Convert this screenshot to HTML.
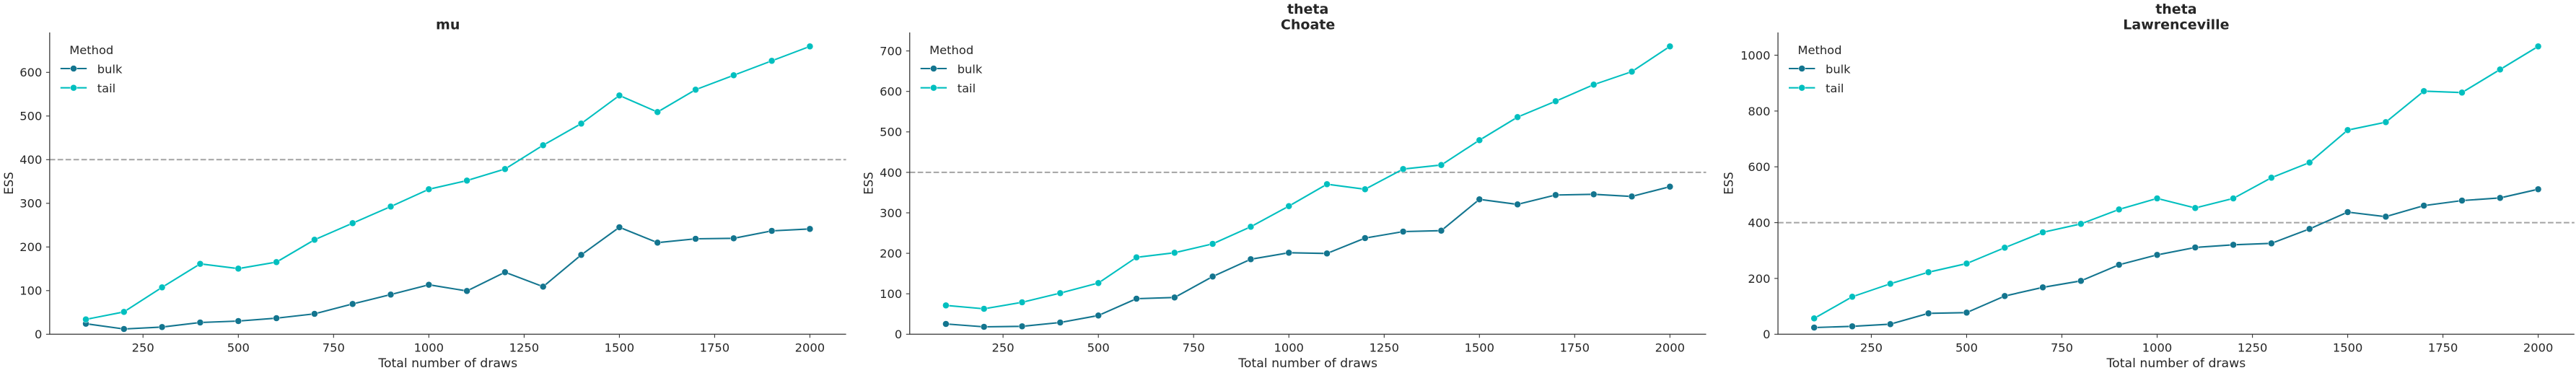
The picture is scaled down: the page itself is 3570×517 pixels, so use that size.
<!DOCTYPE html>
<html>
<head>
<meta charset="utf-8">
<style>
  html,body{margin:0;padding:0;background:#fff;}
  svg{display:block;}
  text{font-family:"DejaVu Sans","Liberation Sans",sans-serif;fill:#262626;}
  .tk{font-size:16.3px;}
  .lab{font-size:17.3px;}
  .ttl{font-size:19px;font-weight:bold;}
  .leg{font-size:16.3px;}
  .ax{stroke:#333;stroke-width:1.25;fill:none;}
  .tick{stroke:#333;stroke-width:1.1;}
  .ref{stroke:#a3a3a3;stroke-width:2;stroke-dasharray:7.7 3.3;fill:none;}
  .lb{stroke:#13758f;stroke-width:2.08;fill:none;stroke-linejoin:round;marker-start:url(#mb);marker-mid:url(#mb);marker-end:url(#mb);}
  .lt{stroke:#00bfbf;stroke-width:2.08;fill:none;stroke-linejoin:round;marker-start:url(#mt);marker-mid:url(#mt);marker-end:url(#mt);}
</style>
</head>
<body>
<svg width="3570" height="517" viewBox="0 0 3570 517" xmlns="http://www.w3.org/2000/svg">
<defs>
  <marker id="mb" viewBox="-6 -6 12 12" markerWidth="12" markerHeight="12" refX="0" refY="0" markerUnits="userSpaceOnUse" overflow="visible">
    <circle r="4.5" fill="#13758f" stroke="#ffffff" stroke-width="0.5"/>
  </marker>
  <marker id="mt" viewBox="-6 -6 12 12" markerWidth="12" markerHeight="12" refX="0" refY="0" markerUnits="userSpaceOnUse" overflow="visible">
    <circle r="4.5" fill="#00bfbf" stroke="#ffffff" stroke-width="0.5"/>
  </marker>
</defs>
<rect width="3570" height="517" fill="#fff"/>

<!-- ================= PANEL 1 : mu ================= -->
<g transform="translate(66.2,0)">
  <line class="ref" x1="2.64" y1="221.3" x2="1106.4" y2="221.3"/>
  <polyline class="lb" points="52.8,448.7 105.6,456 158.4,453.3 211.2,447 264.1,445 316.9,441 369.7,435 422.5,421.3 475.3,408.3 528.1,394.7 580.9,403.3 633.7,377.3 686.5,397.3 739.3,353.3 792.2,315 845,336.3 897.8,331 950.6,330.3 1003.4,320 1056.2,317.3"/>
  <polyline class="lt" points="52.8,442.7 105.6,432.3 158.4,398.3 211.2,365.7 264.1,372.3 316.9,363.3 369.7,332.3 422.5,309.3 475.3,286.3 528.1,262.3 580.9,250.3 633.7,234.3 686.5,201.3 739.3,171.3 792.2,132.3 845,155.3 897.8,124.3 950.6,104.3 1003.4,84.3 1056.2,64.3"/>
  <path class="ax" d="M2.64,45 V463.3 H1106.4"/>
  <g class="tick">
    <line x1="2.64" y1="463.3" x2="-2.3" y2="463.3"/>
    <line x1="2.64" y1="402.8" x2="-2.3" y2="402.8"/>
    <line x1="2.64" y1="342.3" x2="-2.3" y2="342.3"/>
    <line x1="2.64" y1="281.8" x2="-2.3" y2="281.8"/>
    <line x1="2.64" y1="221.3" x2="-2.3" y2="221.3"/>
    <line x1="2.64" y1="160.8" x2="-2.3" y2="160.8"/>
    <line x1="2.64" y1="100.3" x2="-2.3" y2="100.3"/>
    <line x1="132" y1="463.3" x2="132" y2="468.2"/>
    <line x1="264.1" y1="463.3" x2="264.1" y2="468.2"/>
    <line x1="396.1" y1="463.3" x2="396.1" y2="468.2"/>
    <line x1="528.1" y1="463.3" x2="528.1" y2="468.2"/>
    <line x1="660.2" y1="463.3" x2="660.2" y2="468.2"/>
    <line x1="792.2" y1="463.3" x2="792.2" y2="468.2"/>
    <line x1="924.2" y1="463.3" x2="924.2" y2="468.2"/>
    <line x1="1056.2" y1="463.3" x2="1056.2" y2="468.2"/>
  </g>
  <g class="tk" text-anchor="end">
    <text x="-7.9" y="469.2">0</text>
    <text x="-7.9" y="408.7">100</text>
    <text x="-7.9" y="348.2">200</text>
    <text x="-7.9" y="287.7">300</text>
    <text x="-7.9" y="227.2">400</text>
    <text x="-7.9" y="166.7">500</text>
    <text x="-7.9" y="106.2">600</text>
  </g>
  <g class="tk" text-anchor="middle">
    <text x="132" y="487.6">250</text>
    <text x="264.1" y="487.6">500</text>
    <text x="396.1" y="487.6">750</text>
    <text x="528.1" y="487.6">1000</text>
    <text x="660.2" y="487.6">1250</text>
    <text x="792.2" y="487.6">1500</text>
    <text x="924.2" y="487.6">1750</text>
    <text x="1056.2" y="487.6">2000</text>
  </g>
  <text class="lab" x="554.5" y="509" text-anchor="middle">Total number of draws</text>
  <text class="lab" transform="translate(-48.4,254) rotate(-90)" text-anchor="middle" style="font-size:16.5px">ESS</text>
  <text class="ttl" x="554.5" y="40.3" text-anchor="middle">mu</text>
  <!-- legend -->
  <text class="leg" x="30" y="75">Method</text>
  <line x1="17.6" y1="95" x2="54" y2="95" stroke="#13758f" stroke-width="2.08"/>
  <circle cx="35.8" cy="95" r="4.5" fill="#13758f" stroke="#fff" stroke-width="0.5"/>
  <text class="leg" x="68.6" y="101.5">bulk</text>
  <line x1="17.6" y1="121.7" x2="54" y2="121.7" stroke="#00bfbf" stroke-width="2.08"/>
  <circle cx="35.8" cy="121.7" r="4.5" fill="#00bfbf" stroke="#fff" stroke-width="0.5"/>
  <text class="leg" x="68.6" y="128.2">tail</text>
</g>

<!-- ================= PANEL 2 : theta Choate ================= -->
<g transform="translate(1258.1,0)">
  <line class="ref" x1="2.64" y1="238.9" x2="1106.4" y2="238.9"/>
  <polyline class="lb" points="52.8,449 105.6,453 158.4,452.3 211.2,447 264.1,437.3 316.9,414 369.7,412.3 422.5,383.3 475.3,359.3 528.1,350.3 580.9,351.3 633.7,330 686.5,321 739.3,319.7 792.2,276.3 845,283.3 897.8,270.3 950.6,269.3 1003.4,272.3 1056.2,258.7"/>
  <polyline class="lt" points="52.8,423.3 105.6,428 158.4,419 211.2,406.3 264.1,392.3 316.9,356.7 369.7,350.3 422.5,338 475.3,314.3 528.1,285.7 580.9,255.3 633.7,262.3 686.5,234.3 739.3,228.7 792.2,194.3 845,162.3 897.8,140.3 950.6,117.3 1003.4,99.3 1056.2,64.3"/>
  <path class="ax" d="M2.64,45 V463.3 H1106.4"/>
  <g class="tick">
    <line x1="2.64" y1="463.3" x2="-2.3" y2="463.3"/>
    <line x1="2.64" y1="407.2" x2="-2.3" y2="407.2"/>
    <line x1="2.64" y1="351.1" x2="-2.3" y2="351.1"/>
    <line x1="2.64" y1="295" x2="-2.3" y2="295"/>
    <line x1="2.64" y1="238.9" x2="-2.3" y2="238.9"/>
    <line x1="2.64" y1="182.8" x2="-2.3" y2="182.8"/>
    <line x1="2.64" y1="126.7" x2="-2.3" y2="126.7"/>
    <line x1="2.64" y1="70.6" x2="-2.3" y2="70.6"/>
    <line x1="132" y1="463.3" x2="132" y2="468.2"/>
    <line x1="264.1" y1="463.3" x2="264.1" y2="468.2"/>
    <line x1="396.1" y1="463.3" x2="396.1" y2="468.2"/>
    <line x1="528.1" y1="463.3" x2="528.1" y2="468.2"/>
    <line x1="660.2" y1="463.3" x2="660.2" y2="468.2"/>
    <line x1="792.2" y1="463.3" x2="792.2" y2="468.2"/>
    <line x1="924.2" y1="463.3" x2="924.2" y2="468.2"/>
    <line x1="1056.2" y1="463.3" x2="1056.2" y2="468.2"/>
  </g>
  <g class="tk" text-anchor="end">
    <text x="-7.9" y="469.2">0</text>
    <text x="-7.9" y="413.1">100</text>
    <text x="-7.9" y="357">200</text>
    <text x="-7.9" y="300.9">300</text>
    <text x="-7.9" y="244.8">400</text>
    <text x="-7.9" y="188.7">500</text>
    <text x="-7.9" y="132.6">600</text>
    <text x="-7.9" y="76.5">700</text>
  </g>
  <g class="tk" text-anchor="middle">
    <text x="132" y="487.6">250</text>
    <text x="264.1" y="487.6">500</text>
    <text x="396.1" y="487.6">750</text>
    <text x="528.1" y="487.6">1000</text>
    <text x="660.2" y="487.6">1250</text>
    <text x="792.2" y="487.6">1500</text>
    <text x="924.2" y="487.6">1750</text>
    <text x="1056.2" y="487.6">2000</text>
  </g>
  <text class="lab" x="554.5" y="509" text-anchor="middle">Total number of draws</text>
  <text class="lab" transform="translate(-48.6,254) rotate(-90)" text-anchor="middle" style="font-size:16.5px">ESS</text>
  <text class="ttl" x="554.5" y="18.8" text-anchor="middle">theta</text>
  <text class="ttl" x="554.5" y="40.3" text-anchor="middle">Choate</text>
  <!-- legend -->
  <text class="leg" x="30" y="75">Method</text>
  <line x1="17.6" y1="95" x2="54" y2="95" stroke="#13758f" stroke-width="2.08"/>
  <circle cx="35.8" cy="95" r="4.5" fill="#13758f" stroke="#fff" stroke-width="0.5"/>
  <text class="leg" x="68.6" y="101.5">bulk</text>
  <line x1="17.6" y1="121.7" x2="54" y2="121.7" stroke="#00bfbf" stroke-width="2.08"/>
  <circle cx="35.8" cy="121.7" r="4.5" fill="#00bfbf" stroke="#fff" stroke-width="0.5"/>
  <text class="leg" x="68.6" y="128.2">tail</text>
</g>

<!-- ================= PANEL 3 : theta Lawrenceville ================= -->
<g transform="translate(2461.4,0)">
  <line class="ref" x1="2.64" y1="308.6" x2="1106.4" y2="308.6"/>
  <polyline class="lb" points="52.8,454 105.6,452.3 158.4,449.3 211.2,434.3 264.1,433.3 316.9,410.3 369.7,398.3 422.5,389.3 475.3,367 528.1,353.3 580.9,343 633.7,339.3 686.5,337.3 739.3,317.3 792.2,294 845,300.3 897.8,285 950.6,278 1003.4,274.3 1056.2,262.3"/>
  <polyline class="lt" points="52.8,441.3 105.6,411.3 158.4,393.3 211.2,377.3 264.1,365.3 316.9,343.3 369.7,322 422.5,310.3 475.3,290.3 528.1,275 580.9,288.3 633.7,275 686.5,246.3 739.3,225.3 792.2,180.3 845,169.3 897.8,126.3 950.6,128.3 1003.4,96.3 1056.2,64.3"/>
  <path class="ax" d="M2.64,45 V463.3 H1106.4"/>
  <g class="tick">
    <line x1="2.64" y1="463.3" x2="-2.3" y2="463.3"/>
    <line x1="2.64" y1="385.9" x2="-2.3" y2="385.9"/>
    <line x1="2.64" y1="308.6" x2="-2.3" y2="308.6"/>
    <line x1="2.64" y1="231.2" x2="-2.3" y2="231.2"/>
    <line x1="2.64" y1="153.9" x2="-2.3" y2="153.9"/>
    <line x1="2.64" y1="76.5" x2="-2.3" y2="76.5"/>
    <line x1="132" y1="463.3" x2="132" y2="468.2"/>
    <line x1="264.1" y1="463.3" x2="264.1" y2="468.2"/>
    <line x1="396.1" y1="463.3" x2="396.1" y2="468.2"/>
    <line x1="528.1" y1="463.3" x2="528.1" y2="468.2"/>
    <line x1="660.2" y1="463.3" x2="660.2" y2="468.2"/>
    <line x1="792.2" y1="463.3" x2="792.2" y2="468.2"/>
    <line x1="924.2" y1="463.3" x2="924.2" y2="468.2"/>
    <line x1="1056.2" y1="463.3" x2="1056.2" y2="468.2"/>
  </g>
  <g class="tk" text-anchor="end">
    <text x="-7.9" y="469.2">0</text>
    <text x="-7.9" y="391.8">200</text>
    <text x="-7.9" y="314.5">400</text>
    <text x="-7.9" y="237.1">600</text>
    <text x="-7.9" y="159.8">800</text>
    <text x="-7.9" y="82.4">1000</text>
  </g>
  <g class="tk" text-anchor="middle">
    <text x="132" y="487.6">250</text>
    <text x="264.1" y="487.6">500</text>
    <text x="396.1" y="487.6">750</text>
    <text x="528.1" y="487.6">1000</text>
    <text x="660.2" y="487.6">1250</text>
    <text x="792.2" y="487.6">1500</text>
    <text x="924.2" y="487.6">1750</text>
    <text x="1056.2" y="487.6">2000</text>
  </g>
  <text class="lab" x="554.5" y="509" text-anchor="middle">Total number of draws</text>
  <text class="lab" transform="translate(-59.8,254) rotate(-90)" text-anchor="middle" style="font-size:16.5px">ESS</text>
  <text class="ttl" x="554.5" y="18.8" text-anchor="middle">theta</text>
  <text class="ttl" x="554.5" y="40.3" text-anchor="middle">Lawrenceville</text>
  <!-- legend -->
  <text class="leg" x="30" y="75">Method</text>
  <line x1="17.6" y1="95" x2="54" y2="95" stroke="#13758f" stroke-width="2.08"/>
  <circle cx="35.8" cy="95" r="4.5" fill="#13758f" stroke="#fff" stroke-width="0.5"/>
  <text class="leg" x="68.6" y="101.5">bulk</text>
  <line x1="17.6" y1="121.7" x2="54" y2="121.7" stroke="#00bfbf" stroke-width="2.08"/>
  <circle cx="35.8" cy="121.7" r="4.5" fill="#00bfbf" stroke="#fff" stroke-width="0.5"/>
  <text class="leg" x="68.6" y="128.2">tail</text>
</g>
</svg>
</body>
</html>
